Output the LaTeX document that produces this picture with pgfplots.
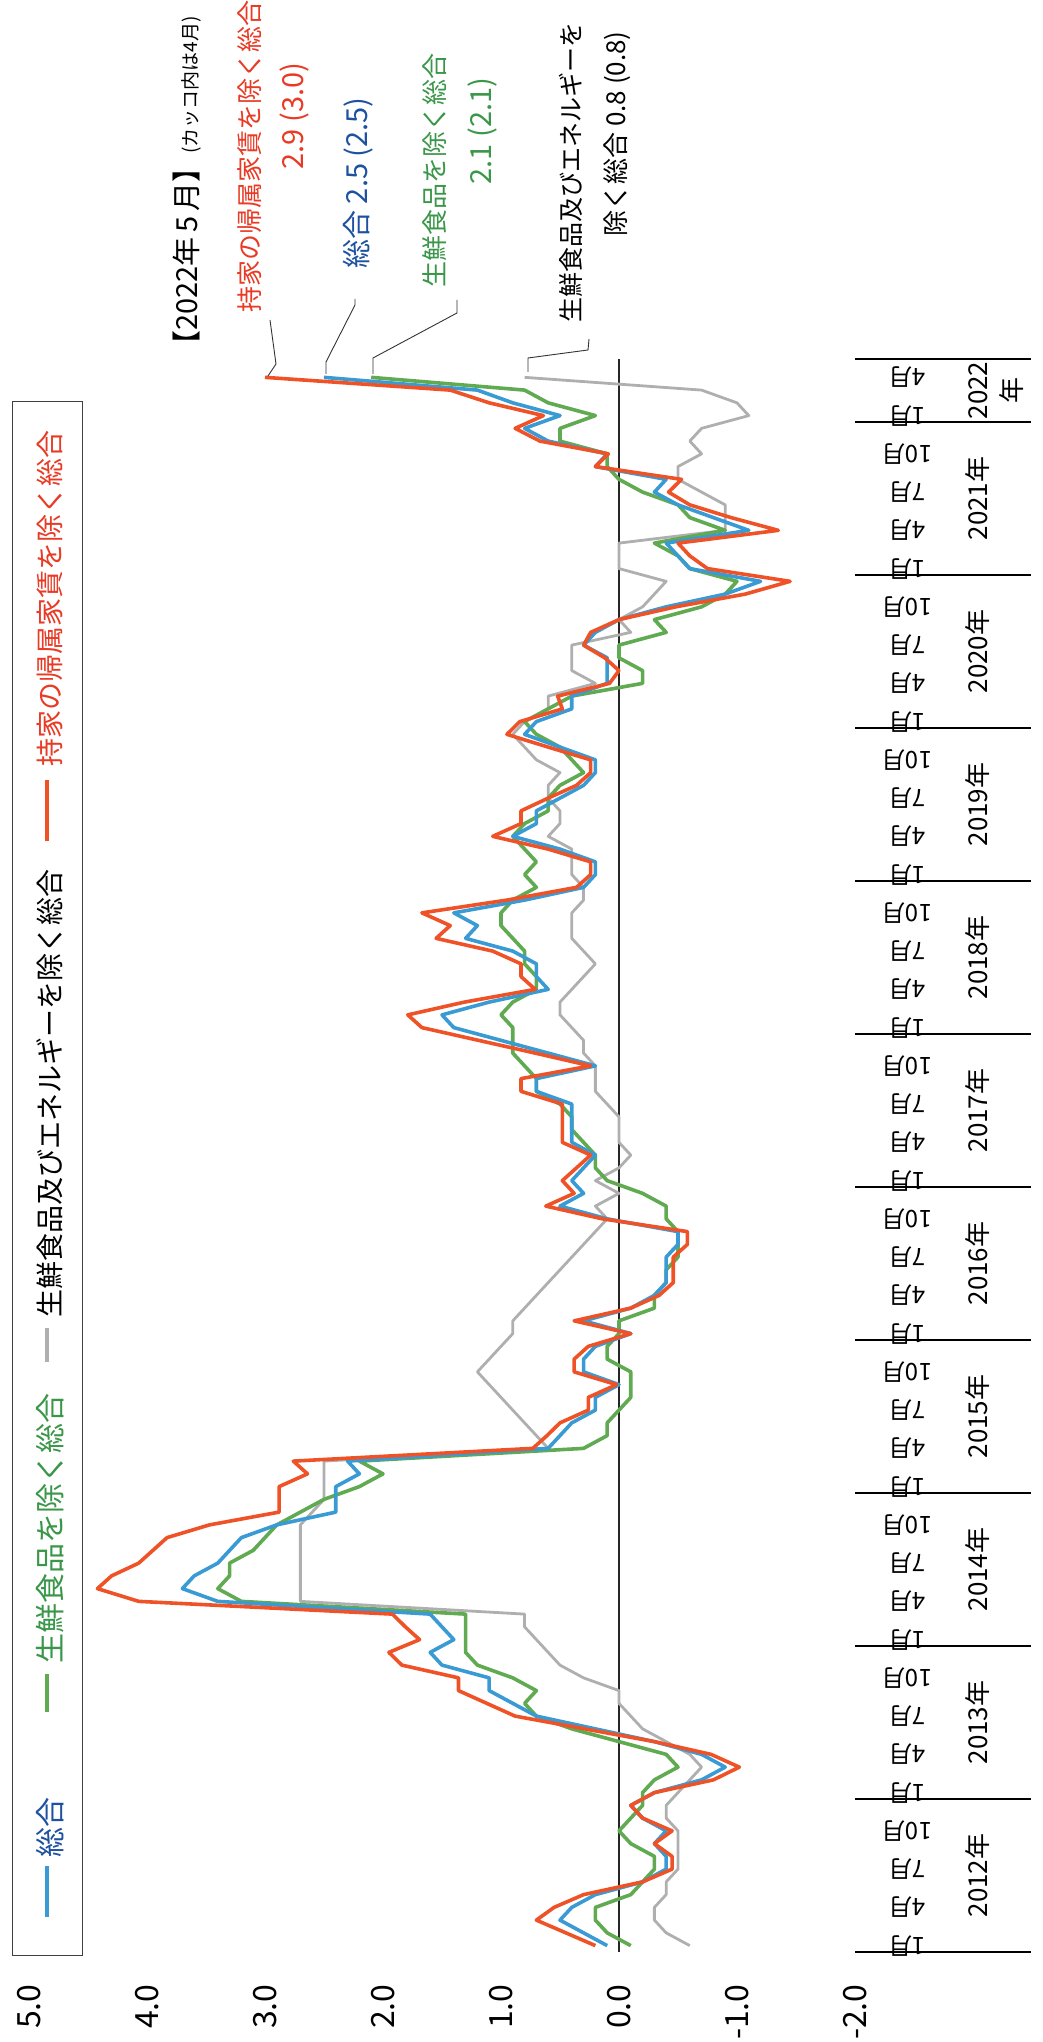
\documentclass[border=0pt]{standalone}
\usepackage{pgfplots}
\pgfplotsset{compat=1.18}
\usepackage{pgfplotstable}
\usepackage{fontspec}
\setmainfont{Noto Sans CJK JP}
\definecolor{cRed}{RGB}{240,82,40}
\definecolor{cBlue}{RGB}{58,155,212}
\definecolor{cGreen}{RGB}{96,170,82}
\definecolor{cGray}{RGB}{175,175,175}
\definecolor{tRed}{RGB}{232,58,36}
\definecolor{tBlue}{RGB}{30,82,160}
\definecolor{tGreen}{RGB}{58,150,72}

% i = months since 2012-01 ; b = 総合, g = 生鮮食品を除く総合,
% c = 生鮮食品及びエネルギーを除く総合, r = 持家の帰属家賃を除く総合
\pgfplotstableread{
i b g c r
0 0.1 -0.1 -0.6 0.2
1 0.3 0.1 -0.4 0.45
2 0.5 0.2 -0.3 0.7
3 0.4 0.2 -0.3 0.55
4 0.2 -0.1 -0.4 0.3
5 -0.2 -0.2 -0.4 -0.2
6 -0.4 -0.3 -0.5 -0.45
7 -0.4 -0.3 -0.5 -0.45
8 -0.3 -0.1 -0.5 -0.3
9 -0.4 0.0 -0.5 -0.45
10 -0.2 -0.1 -0.4 -0.2
11 -0.1 -0.2 -0.4 -0.1
12 -0.3 -0.2 -0.5 -0.3
13 -0.7 -0.3 -0.6 -0.8
14 -0.9 -0.5 -0.7 -1.02
15 -0.7 -0.4 -0.6 -0.78
16 -0.3 0.0 -0.4 -0.3
17 0.2 0.4 -0.2 0.29
18 0.7 0.7 -0.1 0.88
19 0.9 0.8 0.0 1.12
20 1.1 0.7 0.0 1.36
21 1.1 0.9 0.3 1.36
22 1.5 1.2 0.5 1.84
23 1.6 1.3 0.6 1.95
24 1.4 1.3 0.7 1.69
25 1.5 1.3 0.8 1.81
26 1.6 1.3 0.8 1.92
27 3.4 3.2 2.7 4.07
28 3.7 3.4 2.7 4.42
29 3.6 3.3 2.7 4.30
30 3.4 3.3 2.7 4.07
31 3.3 3.1 2.7 3.95
32 3.2 3.0 2.7 3.83
33 2.9 2.9 2.7 3.47
34 2.4 2.7 2.6 2.88
35 2.4 2.5 2.5 2.88
36 2.4 2.2 2.5 2.88
37 2.2 2.0 2.5 2.64
38 2.3 2.2 2.5 2.76
39 0.6 0.3 0.6 0.73
40 0.5 0.1 0.7 0.61
41 0.4 0.1 0.8 0.50
42 0.2 0.0 0.9 0.26
43 0.2 -0.1 1.0 0.26
44 0.0 -0.1 1.1 0.02
45 0.3 -0.1 1.2 0.38
46 0.3 0.1 1.1 0.38
47 0.2 0.1 1.0 0.26
48 -0.1 0.0 0.9 -0.1
49 0.3 0.0 0.9 0.38
50 -0.1 -0.3 0.8 -0.1
51 -0.3 -0.3 0.7 -0.34
52 -0.4 -0.4 0.6 -0.46
53 -0.4 -0.4 0.5 -0.46
54 -0.4 -0.5 0.4 -0.46
55 -0.5 -0.5 0.3 -0.58
56 -0.5 -0.5 0.2 -0.58
57 0.1 -0.4 0.1 0.14
58 0.5 -0.4 0.2 0.62
59 0.3 -0.2 0.0 0.38
60 0.4 0.1 0.2 0.48
61 0.3 0.2 0.0 0.36
62 0.2 0.2 -0.1 0.24
63 0.4 0.3 0.0 0.48
64 0.4 0.4 0.0 0.48
65 0.4 0.4 0.0 0.48
66 0.4 0.5 0.1 0.48
67 0.7 0.7 0.2 0.83
68 0.7 0.7 0.2 0.83
69 0.2 0.8 0.2 0.24
70 0.6 0.9 0.3 0.71
71 1.0 0.9 0.3 1.19
72 1.4 0.9 0.4 1.67
73 1.5 1.0 0.5 1.79
74 1.1 0.9 0.5 1.31
75 0.6 0.7 0.4 0.71
76 0.7 0.7 0.3 0.83
77 0.7 0.8 0.2 0.83
78 0.9 0.8 0.3 1.07
79 1.3 0.9 0.4 1.55
80 1.2 1.0 0.4 1.43
81 1.4 1.0 0.4 1.67
82 0.8 0.9 0.3 0.95
83 0.3 0.7 0.3 0.36
84 0.2 0.8 0.4 0.24
85 0.2 0.7 0.4 0.24
86 0.5 0.8 0.4 0.60
87 0.9 0.9 0.6 1.07
88 0.7 0.8 0.5 0.83
89 0.7 0.6 0.5 0.83
90 0.5 0.6 0.6 0.60
91 0.3 0.5 0.6 0.36
92 0.2 0.3 0.5 0.24
93 0.2 0.4 0.7 0.24
94 0.5 0.5 0.8 0.60
95 0.8 0.7 0.9 0.95
96 0.7 0.8 0.8 0.84
97 0.4 0.6 0.6 0.48
98 0.4 0.4 0.6 0.52
99 0.1 -0.2 0.2 0.08
100 0.1 -0.2 0.4 0.0
101 0.1 0.0 0.4 0.12
102 0.3 0.0 0.4 0.30
103 0.2 -0.4 -0.1 0.24
104 0.0 -0.3 0.0 0.0
105 -0.4 -0.7 -0.2 -0.48
106 -0.9 -0.9 -0.3 -1.07
107 -1.2 -1.0 -0.4 -1.45
108 -0.6 -0.6 0.0 -0.75
109 -0.5 -0.5 0.0 -0.6
110 -0.4 -0.3 0.0 -0.5
111 -1.1 -0.9 -0.9 -1.35
112 -0.8 -0.6 -0.9 -0.95
113 -0.5 -0.5 -0.9 -0.6
114 -0.3 -0.2 -0.7 -0.42
115 -0.4 0.0 -0.5 -0.53
116 0.2 0.1 -0.5 0.2
117 0.1 0.1 -0.7 0.09
118 0.6 0.5 -0.6 0.67
119 0.8 0.5 -0.7 0.88
120 0.5 0.2 -1.1 0.64
121 0.9 0.6 -1.0 1.1
122 1.2 0.8 -0.7 1.43
123 2.5 2.1 0.8 3.0
}\cpidata

\begin{document}
\begin{tikzpicture}
\useasboundingbox (0,0) rectangle (521.5pt,1021pt);
\begin{axis}[
  at={(14.5pt,45pt)}, anchor=south west,
  scale only axis, width=413pt, height=796.5pt,
  xmin=-2, xmax=5, x dir=reverse,
  ymin=-0.5, ymax=124.44,
  clip=false,
  axis line style={draw=none},
  tick style={draw=none},
  major tick length=0pt,
  minor tick length=0pt,
  xtick={-2,-1,0,1,2,3,4,5},
  xticklabels={-2.0,-1.0,0.0,1.0,2.0,3.0,4.0,5.0},
  xticklabel style={rotate=90, anchor=east, inner sep=0pt, font=\fontsize{16}{16}\selectfont},
  xticklabel shift=16pt,
  ytick={0,3,...,123},
  yticklabels={1月,4月,7月,10月,1月,4月,7月,10月,1月,4月,7月,10月,1月,4月,7月,10月,1月,4月,7月,10月,1月,4月,7月,10月,1月,4月,7月,10月,1月,4月,7月,10月,1月,4月,7月,10月,1月,4月,7月,10月,1月,4月},
  yticklabel pos=right,
  yticklabel style={rotate=180, anchor=center, inner sep=0pt, font=\fontsize{12}{12}\selectfont},
  yticklabel shift=26pt,
  /pgf/number format/assume math mode=true,
]
\draw[black!85, line width=0.6pt] (axis cs:0,-0.5) -- (axis cs:0,124.44);
\addplot[cGray, line width=1.4pt, line join=round] table[x=c, y=i] {\cpidata};
\addplot[cGreen, line width=1.8pt, line join=round] table[x=g, y=i] {\cpidata};
\addplot[cBlue, line width=1.8pt, line join=round] table[x=b, y=i] {\cpidata};
\addplot[cRed, line width=1.8pt, line join=round] table[x=r, y=i] {\cpidata};
\end{axis}

\begin{scope}[x=0.5pt,y=-0.5pt,shift={(0pt,1021pt)}]
  % year separators
  \foreach \yy in {1952,1799,1646,1493,1340,1187,1034,881,728,575,422,359}
    \draw[black, line width=0.6pt] (855,\yy) -- (1031,\yy);
  % year labels
  \foreach \yy/\lab in {1875.5/2012年,1722.5/2013年,1569.5/2014年,1416.5/2015年,1263.5/2016年,1110.5/2017年,957.5/2018年,804.5/2019年,651.5/2020年,498.5/2021年}
    \node[rotate=90, font=\fontsize{13}{13}\selectfont, inner sep=0pt] at (978,\yy) {\lab};
  \node[rotate=90, font=\fontsize{13}{17}\selectfont, inner sep=0pt, align=center] at (996,390.5) {2022\\年};
  % legend
  \draw[black!75, line width=0.5pt] (12,402) rectangle (82,1956);
  \draw[cBlue, line width=1.6pt] (47,1917) -- (47,1866);
  \node[rotate=90, anchor=west, inner sep=0pt, text=tBlue, font=\fontsize{15}{15}\selectfont] at (50,1858) {総合};
  \draw[cGreen, line width=1.6pt] (47,1712) -- (47,1674);
  \node[rotate=90, anchor=west, inner sep=0pt, text=tGreen, font=\fontsize{15}{15}\selectfont] at (50,1664) {生鮮食品を除く総合};
  \draw[cGray, line width=1.6pt] (47,1362) -- (47,1328);
  \node[rotate=90, anchor=west, inner sep=0pt, text=black, font=\fontsize{14}{14}\selectfont] at (50,1318) {生鮮食品及びエネルギーを除く総合};
  \draw[cRed, line width=1.6pt] (47,841) -- (47,780);
  \node[rotate=90, anchor=west, inner sep=0pt, text=tRed, font=\fontsize{14}{14}\selectfont] at (50,767) {持家の帰属家賃を除く総合};
  % annotations
  \node[rotate=90, inner sep=0pt, font=\fontsize{14.5}{14.5}\selectfont] at (187,188) {【2022年\,5\,月】{\fontsize{9.5}{9.5}\selectfont(カッコ内は4月)}};
  \node[rotate=90, inner sep=0pt, text=tRed, font=\fontsize{13}{13}\selectfont] at (250,157) {持家の帰属家賃を除く総合};
  \node[rotate=90, inner sep=0pt, text=tRed, font=\fontsize{14.5}{14.5}\selectfont] at (294,116) {2.9 (3.0)};
  \node[rotate=90, inner sep=0pt, text=tBlue, font=\fontsize{14.5}{14.5}\selectfont] at (358,183) {総合 2.5 (2.5)};
  \node[rotate=90, inner sep=0pt, text=tGreen, font=\fontsize{13}{13}\selectfont] at (435,171) {生鮮食品を除く総合};
  \node[rotate=90, inner sep=0pt, text=tGreen, font=\fontsize{14.5}{14.5}\selectfont] at (482,131) {2.1 (2.1)};
  \node[rotate=90, inner sep=0pt, text=black, font=\fontsize{12.5}{12.5}\selectfont] at (571,173) {生鮮食品及びエネルギーを};
  \node[rotate=90, inner sep=0pt, text=black, font=\fontsize{13}{13}\selectfont] at (617,134) {除く総合 0.8 (0.8)};
  % leader lines
  \draw[black!80, line width=0.45pt] (270,320) -- (276,364) -- (268,376);
  \draw[black!80, line width=0.45pt] (355,299) -- (355,305) -- (326,362) -- (326,374);
  \draw[black!80, line width=0.45pt] (457,300) -- (457,313) -- (373,358) -- (373,374);
  \draw[black!80, line width=0.45pt] (589,339) -- (588,350) -- (528,358) -- (528,372);
\end{scope}
\end{tikzpicture}
\end{document}
